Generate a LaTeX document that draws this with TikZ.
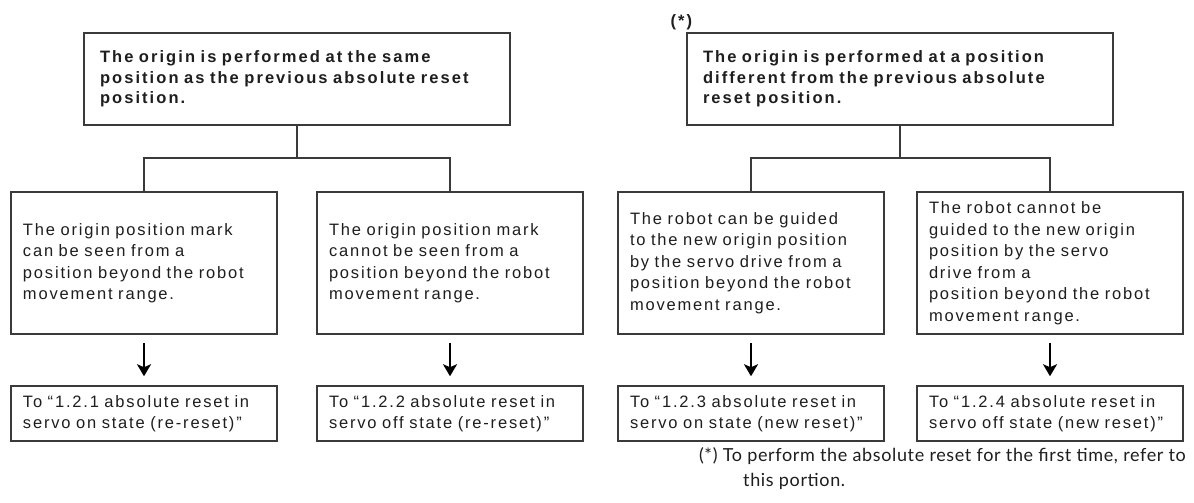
\documentclass[tikz,border=0pt]{standalone}
\usepackage{fontspec}
\setmainfont{Liberation Sans}[LetterSpace=11, BoldFeatures={LetterSpace=12.5}]
\newfontfamily\notefont{Lato}[LetterSpace=3.5]
\usetikzlibrary{arrows.meta}
\definecolor{linecol}{HTML}{3A3A3A}
\definecolor{textcol}{HTML}{1E1E1E}
\tikzset{
  topbox/.style={draw=linecol, line width=2pt, minimum width=426pt, minimum height=92pt,
    text width=394pt, inner xsep=16pt, inner ysep=4pt, align=left, text=textcol,
    font=\fontsize{16.5}{20.5}\selectfont\bfseries},
  midbox/.style={draw=linecol, line width=1.5pt, minimum width=266pt, minimum height=142pt,
    text width=242pt, inner xsep=12pt, inner ysep=3pt, align=left, text=textcol,
    font=\fontsize{16.5}{21.5}\selectfont},
  endbox/.style={draw=linecol, line width=1.5pt, minimum width=266pt, minimum height=55pt,
    text width=242pt, inner xsep=12pt, inner ysep=3pt, align=left, text=textcol,
    font=\fontsize{16.5}{21}\selectfont},
  link/.style={draw=linecol, line width=1.5pt},
  downarrow/.style={draw=black, line width=2.6pt, -{Stealth[length=12pt,width=14pt,inset=3pt]}},
  notetext/.style={inner sep=0pt, text=textcol, font=\notefont\fontsize{18}{25}\selectfont},
}
\begin{document}
\begin{tikzpicture}[x=1pt, y=-1pt]
\fill[white] (0,0) rectangle (1194,503);
\useasboundingbox (0,0) rectangle (1194,503);

\node[anchor=base west, text=textcol, font=\fontsize{16.5}{20}\selectfont\bfseries] (star) at (667,27) {(*)};

\node[topbox] (t1) at (297,79) {The origin is performed at the same\\position as the previous absolute reset\\position.};
\node[topbox] (t2) at (900,79) {The origin is performed at a position\\different from the previous absolute\\reset position.};

\node[midbox] (m1) at (144,263) {The origin position mark\\can be seen from a\\position beyond the robot\\movement range.};
\node[midbox] (m2) at (450,263) {The origin position mark\\cannot be seen from a\\position beyond the robot\\movement range.};
\node[midbox] (m3) at (751,263) {The robot can be guided\\to the new origin position\\by the servo drive from a\\position beyond the robot\\movement range.};
\node[midbox] (m4) at (1050,263) {The robot cannot be\\guided to the new origin\\position by the servo\\drive from a\\position beyond the robot\\movement range.};

\node[endbox] (b1) at (144,413.5) {To “1.2.1 absolute reset in\\servo on state (re-reset)”};
\node[endbox] (b2) at (450,413.5) {To “1.2.2 absolute reset in\\servo off state (re-reset)”};
\node[endbox] (b3) at (751,413.5) {To “1.2.3 absolute reset in\\servo on state (new reset)”};
\node[endbox] (b4) at (1050,413.5) {To “1.2.4 absolute reset in\\servo off state (new reset)”};

\coordinate (j1) at (297,158);
\coordinate (j2) at (900,158);
\draw[link] (t1.south) -- (j1);
\draw[link] (m1.north) |- (j1) -| (m2.north);
\draw[link] (t2.south) -- (j2);
\draw[link] (m3.north) |- (j2) -| (m4.north);

\foreach \i in {1,2,3,4}{
  \draw[downarrow] ([yshift=-8pt]m\i.south) -- ([yshift=9pt]b\i.north);
}

\node[notetext, anchor=base east] (note1) at (1186,461) {(*) To perform the absolute reset for the first time, refer to};
\node[notetext, anchor=base west] (note2) at (743,486) {this portion.};
\end{tikzpicture}
\end{document}
